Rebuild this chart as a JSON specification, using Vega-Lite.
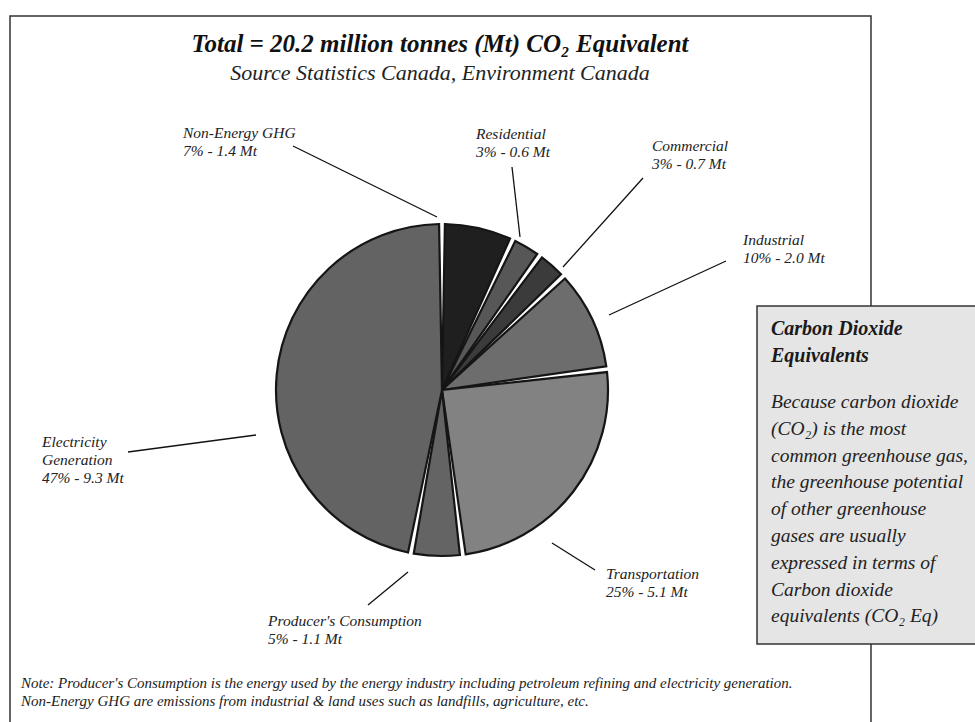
{
  "$schema": "https://vega.github.io/schema/vega-lite/v6.json",
  "width": 975,
  "height": 722,
  "autosize": "none",
  "padding": 0,
  "background": "white",
  "config": {"view": {"stroke": null}},
  "data": {"values": [{}]},
  "datasets": {
    "sectors": [
      {"sector": "Non-Energy GHG", "k": 1, "pct": 7, "mt": 1.4},
      {"sector": "Residential", "k": 2, "pct": 3, "mt": 0.6},
      {"sector": "Commercial", "k": 3, "pct": 3, "mt": 0.7},
      {"sector": "Industrial", "k": 4, "pct": 10, "mt": 2.0},
      {"sector": "Transportation", "k": 5, "pct": 25, "mt": 5.1},
      {"sector": "Producer's Consumption", "k": 6, "pct": 5, "mt": 1.1},
      {"sector": "Electricity Generation", "k": 7, "pct": 47, "mt": 9.3}
    ],
    "labels": [
      {"sector": "Non-Energy GHG", "name": "Non-Energy GHG", "pct": 7, "mt": 1.4, "lx": 183, "ly": 138, "ax": 293, "ay": 146, "bx": 437, "by": 217},
      {"sector": "Residential", "name": "Residential", "pct": 3, "mt": 0.6, "lx": 476, "ly": 139, "ax": 512, "ay": 167, "bx": 520, "by": 237},
      {"sector": "Commercial", "name": "Commercial", "pct": 3, "mt": 0.7, "lx": 652, "ly": 151, "ax": 643, "ay": 178, "bx": 563, "by": 267},
      {"sector": "Industrial", "name": "Industrial", "pct": 10, "mt": 2.0, "lx": 743, "ly": 245, "ax": 726, "ay": 261, "bx": 609, "by": 315},
      {"sector": "Transportation", "name": "Transportation", "pct": 25, "mt": 5.1, "lx": 606, "ly": 579, "ax": 595, "ay": 570, "bx": 552, "by": 543},
      {"sector": "Producer's Consumption", "name": "Producer's Consumption", "pct": 5, "mt": 1.1, "lx": 268, "ly": 626, "ax": 368, "ay": 605, "bx": 408, "by": 572},
      {"sector": "Electricity Generation", "name": "Electricity\nGeneration", "pct": 47, "mt": 9.3, "lx": 42, "ly": 447, "ax": 128, "ay": 452, "bx": 256, "by": 435}
    ]
  },
  "layer": [
    {
      "mark": {"type": "rect", "fill": "white", "stroke": "#333333", "strokeWidth": 1.5},
      "encoding": {
        "x": {"datum": 10, "type": "quantitative", "scale": {"domain": [0, 975], "nice": false, "zero": false}, "axis": null},
        "x2": {"datum": 871},
        "y": {"datum": 16, "type": "quantitative", "scale": {"domain": [0, 722], "nice": false, "zero": false, "reverse": true}, "axis": null},
        "y2": {"datum": 760}
      }
    },
    {
      "mark": {"type": "text", "font": "Liberation Serif", "fontStyle": "italic", "fontWeight": "bold", "fontSize": 25, "align": "center", "baseline": "alphabetic", "color": "#111111"},
      "encoding": {
        "x": {"datum": 440, "type": "quantitative"},
        "y": {"datum": 52, "type": "quantitative"},
        "text": {"value": "Total = 20.2 million tonnes (Mt) CO₂ Equivalent"}
      }
    },
    {
      "mark": {"type": "text", "font": "Liberation Serif", "fontStyle": "italic", "fontSize": 22, "align": "center", "baseline": "alphabetic", "color": "#222222"},
      "encoding": {
        "x": {"datum": 440, "type": "quantitative"},
        "y": {"datum": 80, "type": "quantitative"},
        "text": {"value": "Source Statistics Canada, Environment Canada"}
      }
    },
    {
      "data": {"name": "sectors"},
      "mark": {"type": "arc", "outerRadius": 166, "padAngle": 0.035, "stroke": "#151515", "strokeWidth": 2.2},
      "encoding": {
        "x": {"datum": 442, "type": "quantitative"},
        "y": {"datum": 390, "type": "quantitative"},
        "theta": {"field": "pct", "type": "quantitative", "stack": true},
        "order": {"field": "k", "type": "quantitative"},
        "color": {
          "field": "sector", "type": "nominal", "legend": null,
          "scale": {
            "domain": ["Non-Energy GHG", "Residential", "Commercial", "Industrial", "Transportation", "Producer's Consumption", "Electricity Generation"],
            "range": ["#1f1f1f", "#575757", "#3b3b3b", "#6d6d6d", "#828282", "#646464", "#636363"]
          }
        }
      }
    },
    {
      "data": {"name": "labels"},
      "mark": {"type": "rule", "color": "#111111", "strokeWidth": 1.3},
      "encoding": {
        "x": {"field": "ax", "type": "quantitative"},
        "y": {"field": "ay", "type": "quantitative"},
        "x2": {"field": "bx"},
        "y2": {"field": "by"}
      }
    },
    {
      "data": {"name": "labels"},
      "transform": [
        {"calculate": "datum.name + '\\n' + datum.pct + '% - ' + format(datum.mt, '.1f') + ' Mt'", "as": "lab"}
      ],
      "mark": {"type": "text", "font": "Liberation Serif", "fontStyle": "italic", "fontSize": 15.5, "align": "left", "baseline": "alphabetic", "lineBreak": "\n", "lineHeight": 18, "color": "#222222"},
      "encoding": {
        "x": {"field": "lx", "type": "quantitative"},
        "y": {"field": "ly", "type": "quantitative"},
        "text": {"field": "lab"}
      }
    },
    {
      "mark": {"type": "rect", "fill": "#e5e5e5", "stroke": "#333333", "strokeWidth": 1.5},
      "encoding": {
        "x": {"datum": 757, "type": "quantitative"},
        "x2": {"datum": 990},
        "y": {"datum": 306, "type": "quantitative"},
        "y2": {"datum": 644}
      }
    },
    {
      "mark": {"type": "text", "font": "Liberation Serif", "fontStyle": "italic", "fontWeight": "bold", "fontSize": 20, "align": "left", "baseline": "alphabetic", "lineBreak": "\n", "lineHeight": 27, "color": "#1a1a1a"},
      "encoding": {
        "x": {"datum": 771, "type": "quantitative"},
        "y": {"datum": 335, "type": "quantitative"},
        "text": {"value": "Carbon Dioxide\nEquivalents"}
      }
    },
    {
      "mark": {"type": "text", "font": "Liberation Serif", "fontStyle": "italic", "fontSize": 19.5, "align": "left", "baseline": "alphabetic", "lineBreak": "\n", "lineHeight": 26.8, "color": "#222222"},
      "encoding": {
        "x": {"datum": 771, "type": "quantitative"},
        "y": {"datum": 408, "type": "quantitative"},
        "text": {"value": "Because carbon dioxide\n(CO₂) is the most\ncommon greenhouse gas,\nthe greenhouse potential\nof other greenhouse\ngases are usually\nexpressed in terms of\nCarbon dioxide\nequivalents (CO₂ Eq)"}
      }
    },
    {
      "mark": {"type": "text", "font": "Liberation Serif", "fontStyle": "italic", "fontSize": 15, "align": "left", "baseline": "alphabetic", "lineBreak": "\n", "lineHeight": 17.5, "color": "#222222"},
      "encoding": {
        "x": {"datum": 21, "type": "quantitative"},
        "y": {"datum": 688, "type": "quantitative"},
        "text": {"value": "Note:  Producer's Consumption is the energy used by the energy industry including petroleum refining and  electricity generation.\nNon-Energy GHG are emissions from industrial & land uses such as landfills, agriculture, etc."}
      }
    }
  ]
}
